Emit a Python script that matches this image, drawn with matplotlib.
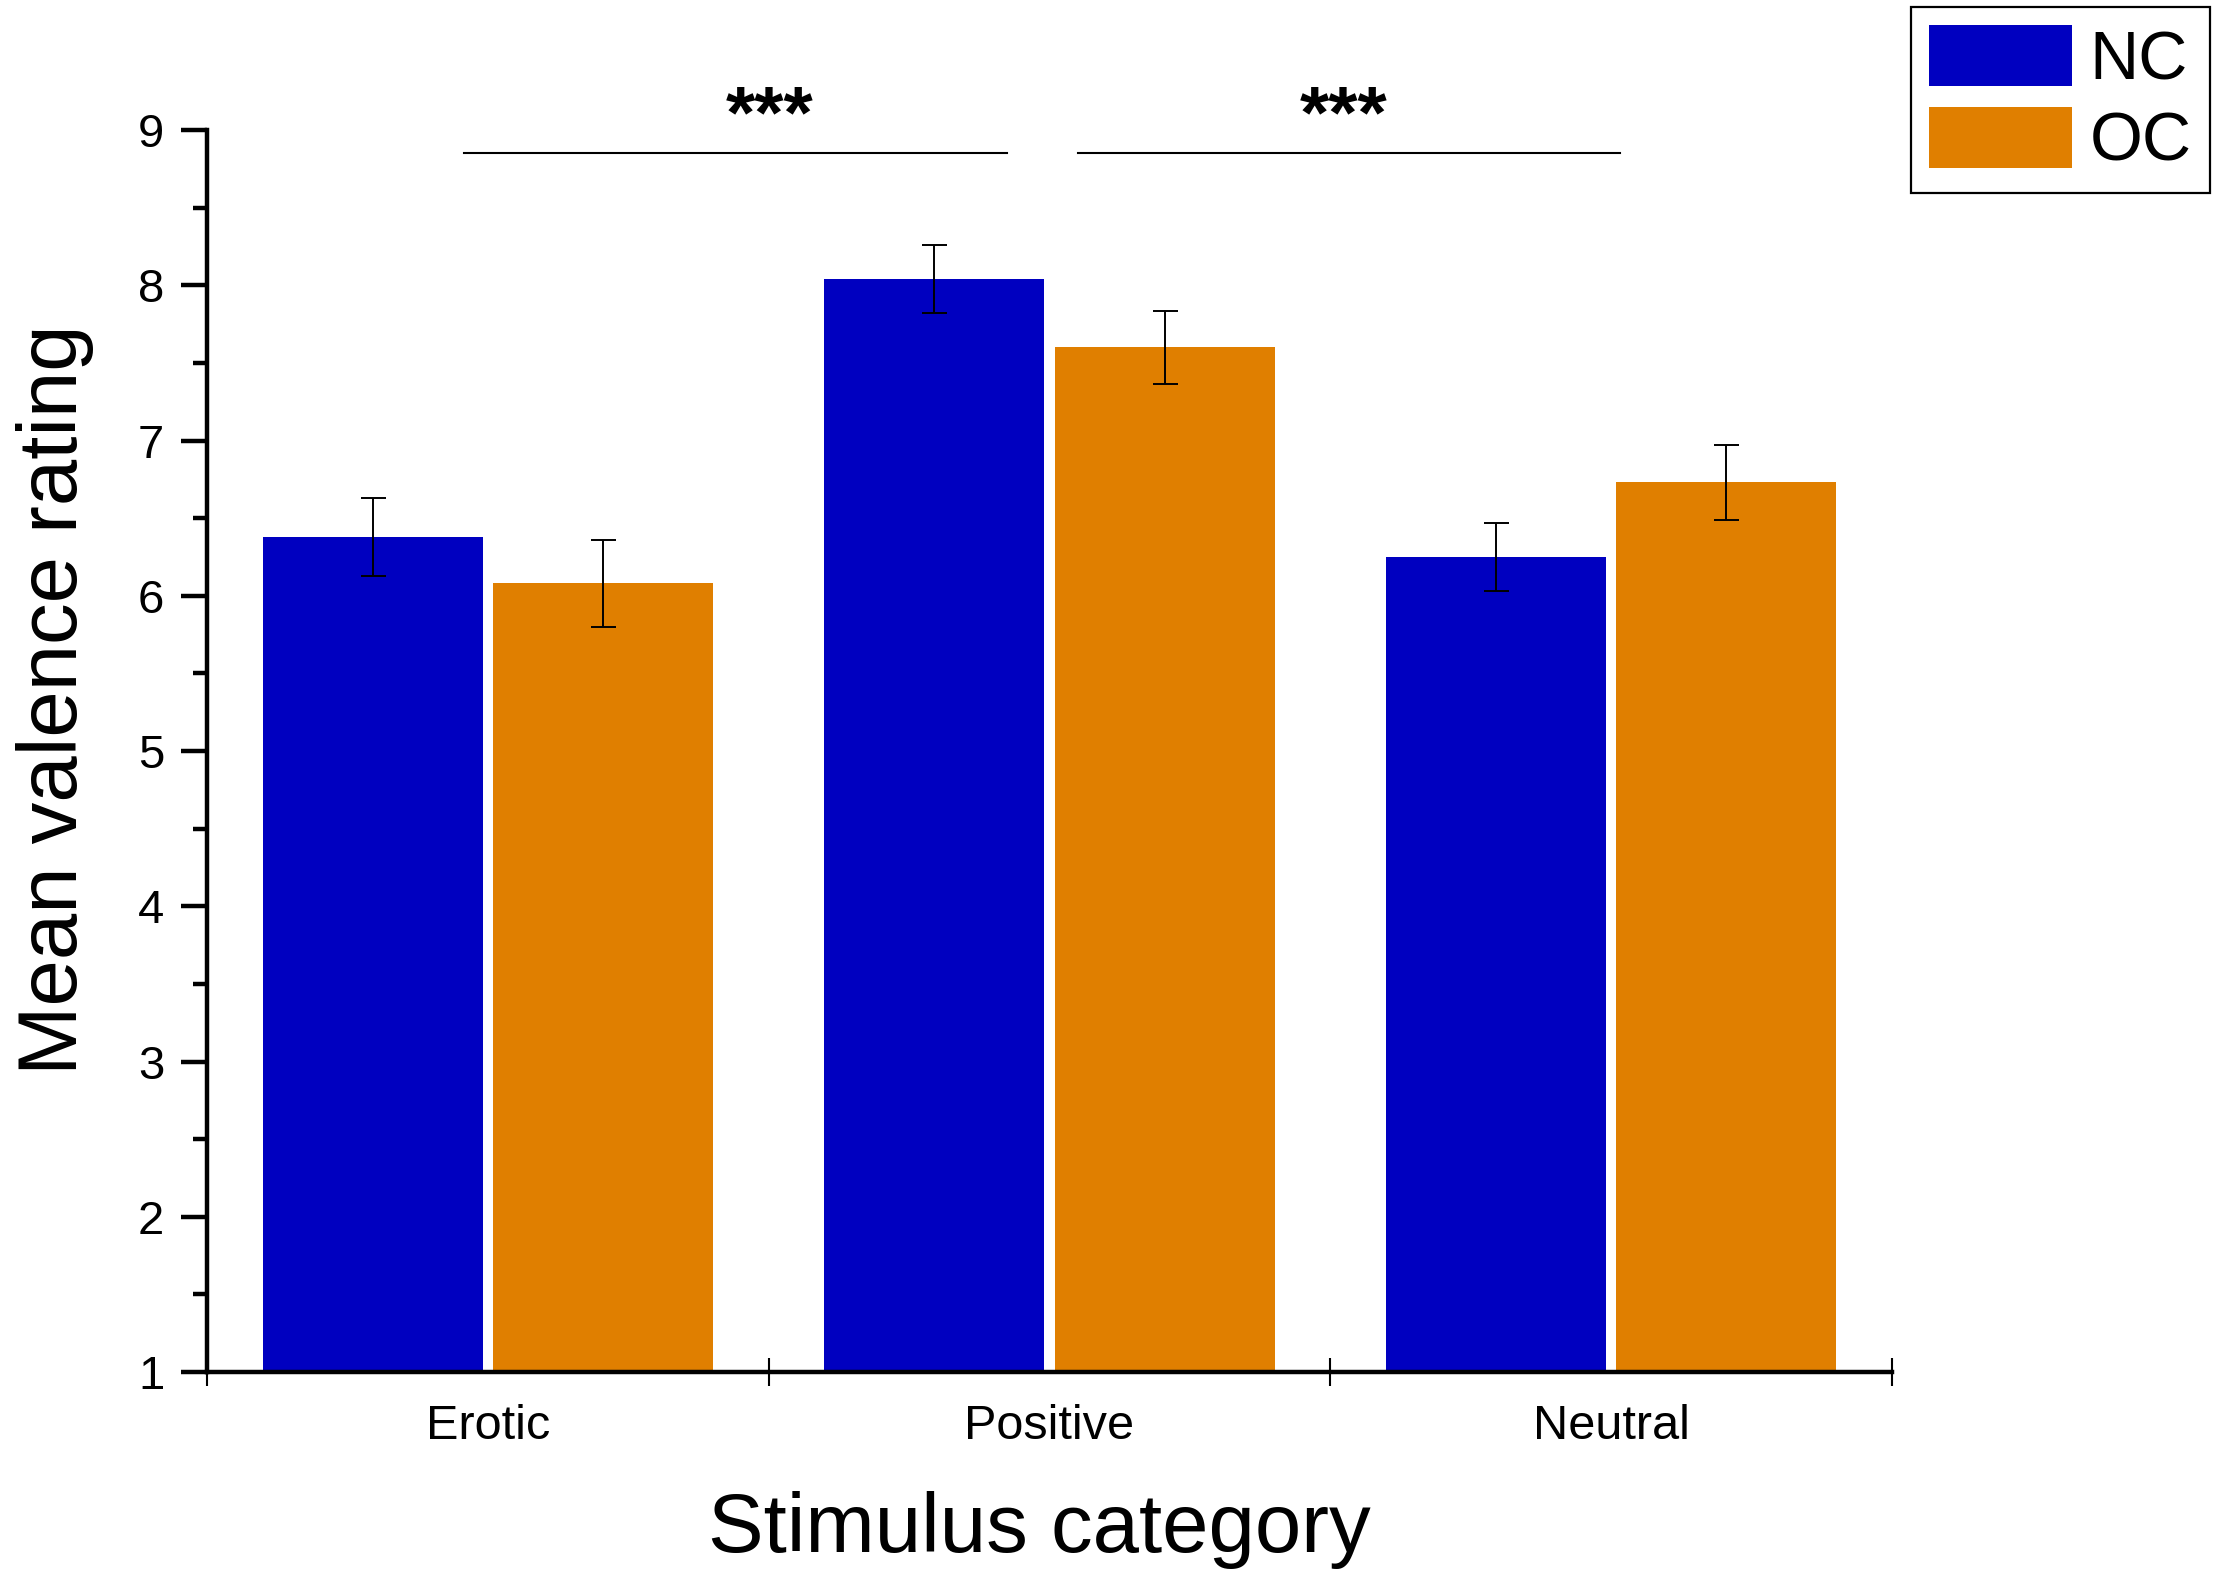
import matplotlib
matplotlib.use("Agg")
import matplotlib.pyplot as plt
import numpy as np
from matplotlib.patches import Patch
from matplotlib.ticker import MultipleLocator, FixedLocator

plt.rcParams['font.family'] = ['Liberation Sans', 'DejaVu Sans']

# values
categories = ['Erotic', 'Positive', 'Neutral']
groups = ['NC', 'OC']
nc_means = [6.38, 8.04, 6.25]
oc_means = [6.08, 7.60, 6.73]
nc_err = [0.25, 0.22, 0.22]
oc_err = [0.28, 0.235, 0.24]

# significance brackets: (x start, x end, star x, label)
sig_pairs = [(0.958, 1.924, 1.502, '***'),
             (2.051, 3.015, 2.524, '***')]
sig_line_y = 8.85
sig_star_y = 8.95

blue = '#0000C0'
orange = '#E07F00'

fig = plt.figure(figsize=(22.17, 15.82), dpi=100)
fig.patch.set_facecolor('white')
ax = fig.add_axes([0.09337, 0.13274, 0.76004, 0.78508])

x = np.arange(1, len(categories) + 1)
width = 0.392
offset = 0.205

ax.bar(x - offset, nc_means, width, color=blue, edgecolor='none', zorder=2)
ax.bar(x + offset, oc_means, width, color=orange, edgecolor='none', zorder=2)
ax.errorbar(x - offset, nc_means, yerr=nc_err, fmt='none', ecolor='black',
            elinewidth=1.4, capsize=9, capthick=1.4, zorder=3)
ax.errorbar(x + offset, oc_means, yerr=oc_err, fmt='none', ecolor='black',
            elinewidth=1.4, capsize=9, capthick=1.4, zorder=3)

# significance lines and stars
for x0, x1, xs, lab in sig_pairs:
    ax.plot([x0, x1], [sig_line_y, sig_line_y], color='black', lw=1.5,
            clip_on=False, zorder=4)
    ax.text(xs, sig_star_y, lab, ha='center', va='baseline', fontsize=54,
            fontweight='bold', clip_on=False)

ax.set_xlim(0.5, 3.5)
ax.set_ylim(1, 9)

# y axis ticks
ax.yaxis.set_major_locator(MultipleLocator(1))
ax.yaxis.set_minor_locator(MultipleLocator(0.5))
ax.tick_params(axis='y', which='major', direction='out', length=18.7,
               width=3.2, labelsize=34, pad=12)
ax.tick_params(axis='y', which='minor', direction='out', length=10, width=3.2)

# x axis: labels at category centres, ticks at group boundaries
ax.set_xticks(x)
ax.set_xticklabels(categories)
ax.xaxis.set_minor_locator(FixedLocator([0.5, 1.5, 2.5, 3.5]))
ax.tick_params(axis='x', which='major', length=0, labelsize=35, pad=23)
ax.tick_params(axis='x', which='minor', direction='inout', length=20, width=1.5)

for side in ['top', 'right']:
    ax.spines[side].set_visible(False)
for side in ['left', 'bottom']:
    ax.spines[side].set_linewidth(3.2)

ax.set_xlabel('Stimulus category', fontsize=60, labelpad=30)
ax.set_ylabel('Mean valence rating', fontsize=60, labelpad=32)
ax.xaxis.label.set_x(0.494)
ax.yaxis.label.set_y(0.541)

handles = [Patch(facecolor=blue, edgecolor='none'),
           Patch(facecolor=orange, edgecolor='none')]
leg = fig.legend(handles, groups, loc='upper right',
                 bbox_to_anchor=(2210 / 2217, 1 - 7 / 1582),
                 borderaxespad=0, fontsize=49, fancybox=False,
                 edgecolor='black', framealpha=1,
                 handlelength=2.1, handleheight=1.0, handletextpad=0.26,
                 labelspacing=0.2, borderpad=0.27)
leg.get_frame().set_linewidth(1.6)

fig.savefig('out.png', dpi=100, facecolor='white')
